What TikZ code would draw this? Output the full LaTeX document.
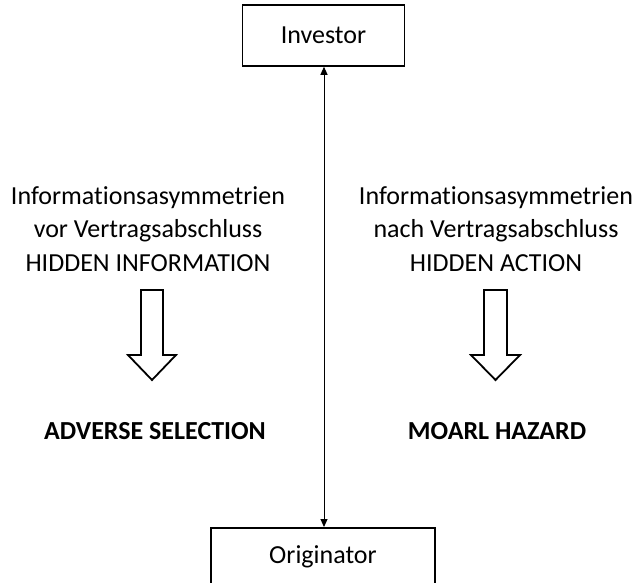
\documentclass[tikz,border=0pt]{standalone}
\usepackage{fontspec}
\setmainfont[Ligatures={NoCommon}]{Carlito}
\usetikzlibrary{arrows.meta}
\begin{document}
\begin{tikzpicture}[x=1pt,y=-1pt,
  box/.style={draw,line width=1.5pt,inner sep=0pt},
  lbl/.style={font=\fontsize{26}{33.5}\selectfont,align=center,inner sep=0pt},
  res/.style={font=\fontsize{26}{29}\selectfont\bfseries,inner sep=0pt},
  hollow/.style={draw,line width=1.8pt,fill=white,line join=miter}]
\useasboundingbox (0,0) rectangle (632,582);
\begin{scope}
\clip (0,0) rectangle (632,582);
\node[box,minimum width=162pt,minimum height=61pt,font=\fontsize{26}{29}\selectfont] (inv) at (323.5,35.5) {Investor};
\node[box,minimum width=224pt,minimum height=80pt,anchor=north] (orig) at (323,527) {};
\node[font=\fontsize{26}{29}\selectfont,inner sep=0pt] (origt) at (323,557) {Originator};
\end{scope}
\draw[line width=1pt,{Triangle[width=7pt,length=8pt]}-{Triangle[width=7pt,length=8pt]}] (inv.south -| 324,0) -- (orig.north -| 324,0);
\node[lbl] (lt) at (148,229) {Informationsasymmetrien\\vor Vertragsabschluss\\HIDDEN INFORMATION};
\node[lbl] (rt) at (496,229) {Informationsasymmetrien\\nach Vertragsabschluss\\HIDDEN ACTION};
\draw[hollow] (141,290) -- (163,290) -- (163,355) -- (176,355) -- (152,380) -- (128,355) -- (141,355) -- cycle;
\draw[hollow] (484,290) -- (507,290) -- (507,355) -- (520,355) -- (495.5,380) -- (471,355) -- (484,355) -- cycle;
\node[res] (as) at (155,431) {ADVERSE SELECTION};
\node[res] (mh) at (497,431) {MOARL HAZARD};
\end{tikzpicture}
\end{document}
